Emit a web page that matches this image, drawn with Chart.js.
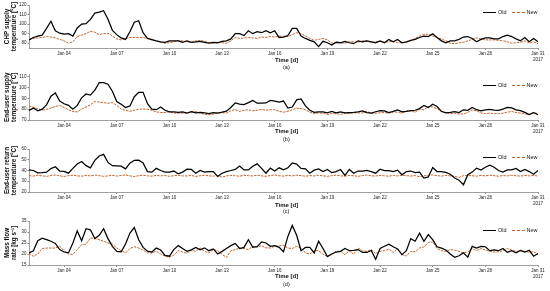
<!DOCTYPE html>
<html>
<head>
<meta charset="utf-8">
<script src="https://cdn.jsdelivr.net/npm/chart.js@4.4.1/dist/chart.umd.min.js"></script>
<style>
  body { margin: 0; background: #fff; }
  #wrap { position: relative; width: 550px; height: 291px; overflow: hidden;
          font-family: "Liberation Sans", Arial, sans-serif; color: #111; }
  #wrap canvas { position: absolute; left: 0; }
  .xt { position: absolute; left: 275px; font-size: 6px; font-weight: bold; line-height: 6px; }
  .sub { position: absolute; left: 283px; font-size: 5.5px; line-height: 6px; }
  .leg { position: absolute; left: 483px; font-size: 5.5px; line-height: 6px;
         display: flex; align-items: center; }
  .leg i { display: inline-block; width: 13px; height: 0; margin-right: 2px; }
  .leg i.old { border-top: 1.3px solid #000; }
  .leg i.new { border-top: 1px dashed #c0652f; margin-left: 5px; }
</style>
</head>
<body>
<div id="wrap">
  <canvas id="pa" width="550" height="64" style="top:0px"></canvas>
  <canvas id="pb" width="550" height="66" style="top:70px"></canvas>
  <canvas id="pc" width="550" height="64" style="top:144px"></canvas>
  <canvas id="pd" width="550" height="65" style="top:216px"></canvas>

  <div class="leg" style="top:9px"><i class="old"></i>Old<i class="new"></i>New</div>
  <div class="leg" style="top:82px"><i class="old"></i>Old<i class="new"></i>New</div>
  <div class="leg" style="top:154px"><i class="old"></i>Old<i class="new"></i>New</div>
  <div class="leg" style="top:227px"><i class="old"></i>Old<i class="new"></i>New</div>

  <div class="xt" style="top:57px">Time [d]</div><div class="sub" style="top:64px">(a)</div>
  <div class="xt" style="top:128px">Time [d]</div><div class="sub" style="top:136px">(b)</div>
  <div class="xt" style="top:202px">Time [d]</div><div class="sub" style="top:208px">(c)</div>
  <div class="xt" style="top:273px">Time [d]</div><div class="sub" style="top:281px">(d)</div>
</div>

<script>
// time axis: day of January 2017, sampled every 6 h from Jan 02 to Jan 31
const START_DAY = 2;
const STEP = 0.25;
const X_TICKS = [4, 7, 10, 13, 16, 19, 22, 25, 28, 31];

// (a) CHP supply temperature [°C]
const chpOld = [
  83.4, 86, 87.5, 88.5, 95.6, 103, 93, 90.5, 89.5, 90,
  87.5, 96, 100, 100.5, 105, 111.5, 112.5, 114, 105, 93.5,
  89, 85.5, 84, 92, 102, 103.5, 91, 85, 83.8, 82.5,
  81.5, 81, 82.5, 82.5, 82.5, 81, 82.5, 81, 81.5, 82,
  81, 80, 81, 80.5, 82, 82.5, 84.5, 90, 90, 88,
  93, 90, 92, 91, 93, 91, 93, 86, 86.5, 88,
  95.6, 95.5, 87.5, 85, 83, 81.5, 76.5, 82, 80.5, 78,
  81, 80.5, 82, 80.5, 79.5, 82.5, 81.5, 82.5, 81.5, 80.5,
  82.5, 80.5, 84, 81.5, 84, 80.5, 81.5, 83, 84, 86,
  87.5, 87, 90, 86, 82.5, 80.5, 82.5, 82.5, 84, 86.5,
  87, 85, 81.5, 84, 85.5, 85.5, 84.5, 84.5, 87, 88.5,
  87, 84.5, 82.5, 86, 81.5, 85, 81.5
];
const chpNew = [
  84, 85, 85.5, 86, 87, 86.5, 85.5, 84, 82.5, 80,
  81.5, 87, 88.5, 90, 92.5, 91.5, 89, 90, 90.5, 87.6,
  84.5, 83.5, 85, 86, 86, 86, 86, 85, 83.5, 82.5,
  81, 80, 80.5, 81.5, 83, 82.5, 81.5, 81, 82.5, 83,
  82, 80.5, 80, 81, 80.5, 80, 82.5, 86, 85, 85.5,
  86, 85.5, 85, 86.5, 86, 87, 86.5, 87.5, 87.3, 87,
  89, 91, 90, 87.6, 85, 83, 84, 85, 83.5, 80,
  81, 80.5, 80, 81.5, 81.5, 81, 82.5, 82.5, 81, 81.5,
  82, 81, 81.5, 82, 80.5, 80.5, 81, 82.5, 85, 87.5,
  89, 89.5, 87.5, 86, 84.5, 82.5, 80, 79.5, 80.5, 81,
  82.5, 84, 85.5, 84.5, 83.5, 83.5, 83.5, 83, 82.5, 81.5,
  80, 80.5, 81, 82.5, 80.5, 81.5, 79.5
];

// (b) end-user supply temperature [°C]
const supOld = [
  78.8, 81, 78.5, 80, 84, 92, 95, 87.5, 85, 83.5,
  80, 83.5, 90.5, 94, 93, 97.5, 104.5, 104.5, 103, 96.5,
  87, 84.5, 81.5, 83, 91.5, 95.5, 95.5, 85, 80, 79.5,
  82, 79, 77.5, 77.5, 77, 77.5, 76.3, 77.8, 76.5, 77,
  76.5, 75.8, 76.7, 76.4, 77.2, 78.1, 81.5, 85.8, 84.7, 84.2,
  86, 88, 85.5, 85.5, 85.7, 88, 87.5, 86.5, 87.5, 81,
  82, 88.6, 89.5, 83, 79, 77, 77.5, 77.5, 76.5, 77.9,
  76.5, 77.5, 76.5, 76.8, 77, 77.6, 78.4, 76.9, 76.3, 77.6,
  78.6, 78.4, 76.9, 77.9, 79.3, 77.5, 78, 78.6, 79, 80.5,
  83.5, 81.5, 84.5, 82.5, 78, 76.6, 77, 77.8, 76.9, 79.4,
  79, 81.5, 79.5, 78.4, 79.3, 79.8, 79.2, 78.8, 80, 81.6,
  81.2, 79.3, 78.6, 77, 75, 76.7, 75
];
const supNew = [
  83, 81.8, 80.4, 79.2, 79.8, 81, 82.5, 83.5, 81.5, 79.5,
  77.8, 77.5, 80, 82, 84, 87, 86.5, 86, 85.5, 86,
  83.5, 80, 79, 78, 79, 80, 80, 80, 79, 77.5,
  76.9, 76.9, 77.6, 76.4, 76.3, 76.3, 76.6, 77.2, 77.9, 76.3,
  75.3, 74.9, 75.5, 76.5, 76.8, 76.5, 78.5, 79.7, 77.9, 79,
  79.4, 78.5, 79, 79.8, 79, 79.5, 79.5, 78, 77.2, 78,
  79.5, 80.9, 80.5, 79.5, 77.2, 75.8, 76.5, 76.4, 75, 76,
  75.8, 75.2, 76.2, 76, 76.6, 76.6, 76.5, 77.9, 76.3, 76.3,
  76.6, 76.9, 76.3, 77.5, 77.2, 76.3, 78.4, 78.4, 77.2, 80,
  79.4, 82.5, 82, 80.5, 77.5, 76.8, 76, 76.2, 75.5, 75.6,
  77, 79.3, 78.5, 76.6, 75.8, 76.4, 75.8, 75.9, 76.2, 77.2,
  77.9, 76.9, 76.4, 75.7, 74.8, 76.9, 75.7
];

// (c) end-user return temperature [°C]
const retOld = [
  40.6, 40, 37.8, 38.1, 38.5, 41.8, 43.5, 39.5, 39.2, 37.5,
  42, 46, 48.4, 44.5, 42.5, 49.5, 53.5, 55, 47.5, 44.5,
  44.3, 44, 41.5, 46.8, 49.5, 49.6, 47, 39, 38.5, 42,
  40, 38.5, 38.6, 39.5, 37, 38.5, 41.2, 41, 37.5, 40,
  38.5, 39, 39, 34.5, 37.5, 39, 40, 41, 44.2, 40.5,
  40.5, 44, 46.2, 42, 37.5, 42.2, 39.5, 42.5, 40.6, 42.5,
  47, 46, 42, 41.5, 37.5, 40.3, 41.5, 39, 40.9, 38,
  39, 40.9, 35.5, 41, 37.5, 39.5, 39.5, 40, 39, 37.5,
  41.2, 39.8, 39.8, 39, 40.3, 36, 39, 39.5, 38, 38.5,
  33, 34, 42.8, 39, 39, 38.2, 36.5, 33, 31, 26.7,
  36, 38.5, 42.2, 40.5, 43, 45, 43, 40, 38.5, 40.6,
  40.5, 41.9, 39, 41, 39, 36.5, 40
];
const retNew = [
  35.2, 34.8, 35.5, 35, 34.6, 35.3, 35.8, 35, 34.5, 35.2,
  35.6, 35, 34.7, 35.4, 35, 35.8, 35.2, 34.6, 35, 35.5,
  34.8, 35.3, 35.9, 35, 34.4, 35.2, 35.6, 35, 34.8, 35.4,
  35, 35.3, 34.6, 35.1, 35.7, 35, 34.9, 35.4, 34.5, 35.2,
  35.6, 35, 34.8, 35.3, 33.8, 35, 35.4, 35.1, 34.7, 35.5,
  35.2, 34.9, 35.6, 35, 34.6, 35.3, 35.8, 35.1, 34.8, 35.4,
  35, 35.6, 35.2, 34.7, 35.3, 34.9, 35.5, 35, 34.6, 35.2,
  35.7, 35, 34.8, 35.4, 35.1, 34.6, 35.3, 35.8, 35, 34.9,
  35.5, 35.1, 34.7, 35.4, 35, 35.6, 35.2, 34.8, 35.3, 34.2,
  35, 35.6, 35.9, 35.2, 34.8, 35.4, 35, 34.6, 33.5, 35.2,
  35.5, 35.1, 34.8, 35.4, 35, 35.6, 35.2, 34.7, 35.3, 35,
  35.5, 35.1, 34.8, 35.4, 35, 35.3, 34.9
];

// (d) mass flow rate [kg/s]
const flowOld = [
  20.5, 21.5, 26, 27.2, 26.5, 25.8, 24.8, 22, 20.9, 20.5,
  25, 30.5, 26, 31.5, 31, 27, 28.5, 31.5, 27, 23.5,
  21.2, 21, 24.5, 29.5, 32, 26.5, 23, 21.3, 20.9, 22.7,
  21.8, 19.4, 19, 22, 23.8, 22.5, 21.2, 21.9, 23, 21.9,
  22.8, 21.5, 22.3, 20, 21.2, 22.5, 23.8, 24.8, 22.5, 23,
  26.5, 23, 23.3, 25.5, 25, 23.5, 23.8, 23, 21, 28,
  33, 28.5, 21.5, 23, 23, 20.5, 25.8, 22.5, 18.8, 20,
  20.9, 21.2, 22.5, 21.5, 21.7, 22, 20.7, 20.7, 21.6, 17.6,
  22.5, 23.5, 24.5, 23.3, 22.3, 19.7, 21.5, 27, 25.8, 29.5,
  25.8, 28.8, 26.5, 23.3, 22.7, 21.8, 20, 18.5, 19.2, 20.5,
  18.6, 23.5, 22.7, 23.5, 23.3, 21.5, 21.9, 21.5, 22.5, 20.8,
  21.5, 20.5, 21.6, 20.9, 21.7, 19, 20.2
];
const flowNew = [
  20.5, 18.9, 20, 22.5, 22.7, 22.7, 22.7, 23.5, 21.5, 20,
  19.8, 22, 24.2, 24.5, 27.3, 27, 26.5, 25.8, 25, 24.5,
  22.7, 21.5, 20.5, 22.5, 23.3, 22.7, 21.8, 20.5, 20.5, 21.2,
  20, 19, 18.5, 19.5, 21.5, 20.9, 20.3, 21.8, 21.2, 22.7,
  21.2, 20.5, 22, 21.5, 19.8, 18.5, 21.5, 22, 22.7, 22.5,
  22, 23.5, 23.2, 23.8, 22.8, 22.7, 23.5, 23.7, 24, 22.7,
  22.5, 23.5, 22.7, 20.5, 20, 21.5, 21.5, 19.9, 19, 19.8,
  21.3, 21.2, 19.7, 21.5, 19.9, 22.7, 21.5, 21.2, 22, 20.2,
  21.2, 21.5, 22.2, 20.7, 22.5, 19.7, 19.1, 21.2, 21, 22.7,
  23.2, 25.2, 25.5, 22.5, 21.5, 21.2, 22, 21.8, 21.2, 20.5,
  21, 22.5, 21.5, 22.5, 21.8, 21.2, 20.9, 21, 21.5, 22.5,
  21.8, 21.2, 21.5, 21.2, 20.8, 21, 20
];

const times = chpOld.map((_, i) => START_DAY + i * STEP);

const OLD_COLOR = '#000000';
const NEW_COLOR = '#c0652f';
const FONT = '"Liberation Sans", Arial, sans-serif';

function dayLabel(v) {
  const d = 'Jan ' + String(v).padStart(2, '0');
  return v === 31 ? [d, '2017'] : d;
}

function makePanel(id, title, oldVals, newVals, yMin, yMax, yTicks, padTop) {
  new Chart(document.getElementById(id), {
    type: 'line',
    data: {
      labels: times,
      datasets: [
        { label: 'Old', data: oldVals, borderColor: OLD_COLOR, borderWidth: 1.25,
          pointRadius: 0, tension: 0 },
        { label: 'New', data: newVals, borderColor: NEW_COLOR, borderWidth: 1,
          borderDash: [2.5, 1], pointRadius: 0, tension: 0 },
      ],
    },
    options: {
      responsive: false,
      animation: false,
      devicePixelRatio: 1,
      layout: { padding: { top: padTop, right: 12, left: 0, bottom: 0 } },
      plugins: { legend: { display: false }, tooltip: { enabled: false } },
      scales: {
        x: {
          type: 'linear', min: 2, max: 31,
          afterBuildTicks: s => { s.ticks = X_TICKS.map(v => ({ value: v })); },
          afterFit: s => { s.height = 16; },
          ticks: { callback: dayLabel, font: { family: FONT, size: 4.5 }, color: '#222',
                   maxRotation: 0, autoSkip: false, padding: 1.5 },
          grid: { drawOnChartArea: false, tickLength: 2, color: '#888' },
          border: { color: '#888', width: 0.8 },
        },
        y: {
          min: yMin, max: yMax,
          afterBuildTicks: s => { s.ticks = yTicks.map(v => ({ value: v })); },
          afterFit: s => { s.width = 29; },
          ticks: { font: { family: FONT, size: 4.5 }, color: '#222', padding: 1 },
          grid: { drawOnChartArea: false, tickLength: 1.5, color: '#888' },
          border: { color: '#888', width: 0.8 },
          title: { display: true, text: title, color: '#111',
                   font: { family: FONT, size: 6.3, weight: 'bold', lineHeight: 1.2 },
                   padding: { top: 3, bottom: 0 } },
        },
      },
    },
  });
}

makePanel('pa', ['CHP supply', 'temperature [°C]'], chpOld, chpNew,
          75, 120, [80, 90, 100, 110, 120], 5);
makePanel('pb', ['End-user supply', 'temperature [°C]'], supOld, supNew,
          70, 112, [70, 80, 90, 100, 110], 4.5);
makePanel('pc', ['End-user return', 'temperature [°C]'], retOld, retNew,
          20, 60, [20, 30, 40, 50, 60], 5);
makePanel('pd', ['Mass flow', 'rate [kg s\u207B\u00B9]'], flowOld, flowNew,
          15, 35, [15, 20, 25, 30, 35], 5);
</script>
</body>
</html>
